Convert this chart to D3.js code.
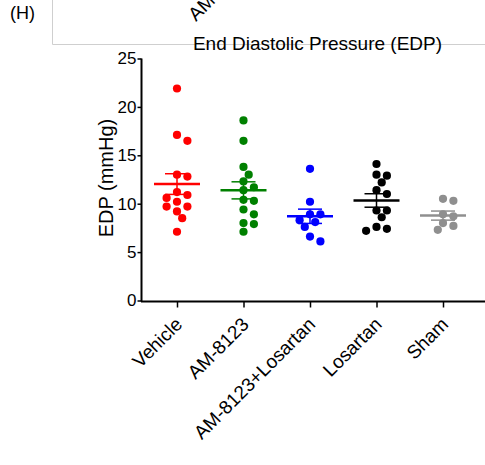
<!DOCTYPE html>
<html><head><meta charset="utf-8">
<script src="https://cdn.jsdelivr.net/npm/d3@7"></script>
<style>html,body{margin:0;padding:0;background:#fff;}svg{display:block;font-family:"Liberation Sans",Arial,sans-serif;}</style>
</head><body>
<svg id="c" width="485" height="465"></svg>
<script>
const categories = ["Vehicle","AM-8123","AM-8123+Losartan","Losartan","Sham"];
const colors = ["#ff0000","#008000","#0000ff","#000000","#8f8f8f"];
const vehicle = [21.9,17.1,16.5,13.0,12.8,11.2,10.9,10.6,10.2,9.7,9.7,9.2,8.5,7.1];
const am8123 = [18.6,16.5,13.8,13.0,12.3,11.7,11.4,10.4,10.3,9.4,8.9,8.0,7.9,7.1];
const amLos = [13.6,10.2,8.9,8.9,8.3,8.1,7.6,6.6,6.1];
const losartan = [14.1,13.0,12.9,12.2,11.4,11.0,9.3,9.3,8.6,7.6,7.4,7.2];
const sham = [10.5,10.3,8.9,8.7,8.0,7.7,7.3];
const yTicks = [0,5,10,15,20,25];
const title = "End Diastolic Pressure (EDP)";
const yLabel = "EDP (mmHg)";
const panelLabel = "(H)";
const prevLabel = "AM-8123";
const groups = [vehicle, am8123, amLos, losartan, sham];

const FONT = "Liberation Sans, Arial, sans-serif";
const svg = d3.select("#c");
const y = d3.scaleLinear().domain([0,25]).range([300.5,58.5]);
const x = d3.scalePoint().domain(categories).range([177,443]);

// panel remnants
svg.append("line").attr("x1",52.5).attr("x2",52.5).attr("y1",0).attr("y2",44.5).attr("stroke","#cfcfcf").attr("stroke-width",1);
svg.append("line").attr("x1",52.5).attr("x2",485).attr("y1",44.5).attr("y2",44.5).attr("stroke","#cfcfcf").attr("stroke-width",1);
svg.append("text").attr("x",10).attr("y",19).attr("font-size",18).text(panelLabel);
svg.append("text").attr("transform","translate(196,22) rotate(-45)").attr("font-size",19).text(prevLabel);
svg.append("text").attr("x",317.5).attr("y",49.5).attr("text-anchor","middle").attr("font-size",19).text(title);

// axes
const yAxis = svg.append("g").attr("transform","translate(141.5,0)")
  .call(d3.axisLeft(y).tickValues(yTicks).tickSize(4).tickPadding(1));
yAxis.select(".domain").attr("stroke-width",2).attr("d","M0,"+y(25)+"V"+(y(0)+1));
yAxis.selectAll(".tick line").attr("stroke-width",1.5);
yAxis.selectAll(".tick text").attr("font-size",17).attr("fill","#000").attr("font-family",FONT);

const xAxis = svg.append("g").attr("transform","translate(0,301.5)")
  .call(d3.axisBottom(x).tickSize(6).tickSizeOuter(0));
xAxis.select(".domain").attr("stroke-width",2).attr("d","M141,0H485");
xAxis.selectAll(".tick line").attr("stroke-width",1.5);
xAxis.selectAll(".tick text").attr("font-size",19).attr("fill","#000")
  .attr("font-family",FONT)
  .attr("text-anchor","end").attr("dy",null).attr("y",null)
  .attr("transform","translate(6,24) rotate(-45)");

svg.append("text").attr("transform","translate(113,178) rotate(-90)").attr("text-anchor","middle").attr("font-size",20).text(yLabel);

// beeswarm
const r = 4.1;
groups.forEach((vals, gi) => {
  const cx = x(categories[gi]);
  const placed = [];
  const sorted = vals.slice().sort((a,b)=>b-a);
  sorted.forEach(v => {
    const py = y(v);
    const steps = [0,1,-1,2,-2,3,-3,4,-4];
    for (const k of steps) {
      const px = cx + k*5.2;
      if (placed.every(p => Math.hypot(p[0]-px,p[1]-py) >= 2*r)) { placed.push([px,py]); break; }
    }
  });
  svg.append("g").selectAll("circle").data(placed).join("circle")
    .attr("cx",d=>d[0]).attr("cy",d=>d[1]).attr("r",r).attr("fill",colors[gi]);
  const m = d3.mean(vals), sem = d3.deviation(vals)/Math.sqrt(vals.length);
  const g = svg.append("g").attr("stroke",colors[gi]);
  g.append("line").attr("x1",cx-23).attr("x2",cx+23).attr("y1",y(m)).attr("y2",y(m)).attr("stroke-width",2.5);
  g.append("line").attr("x1",cx).attr("x2",cx).attr("y1",y(m+sem)).attr("y2",y(m-sem)).attr("stroke-width",1.5);
  g.append("line").attr("x1",cx-12).attr("x2",cx+12).attr("y1",y(m+sem)).attr("y2",y(m+sem)).attr("stroke-width",1.5);
  g.append("line").attr("x1",cx-12).attr("x2",cx+12).attr("y1",y(m-sem)).attr("y2",y(m-sem)).attr("stroke-width",1.5);
});
</script>
</body></html>
